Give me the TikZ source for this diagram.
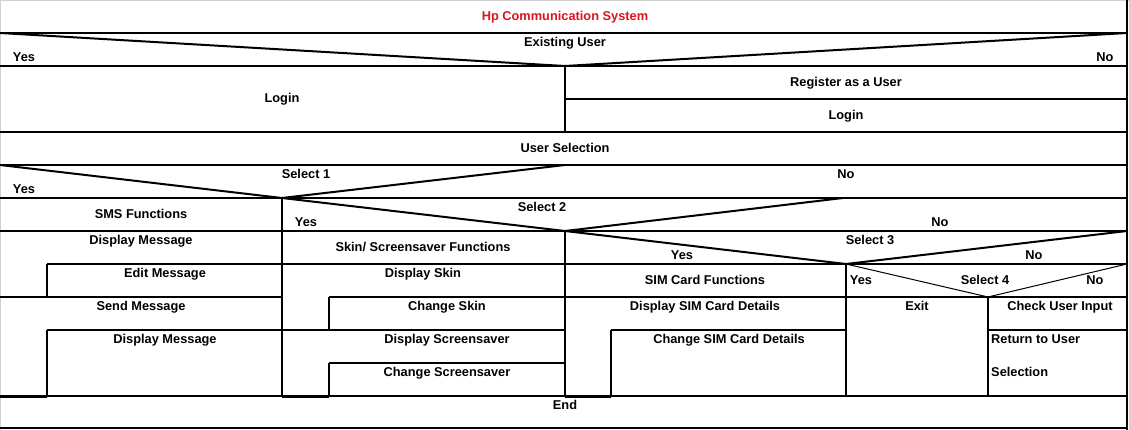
\documentclass[tikz,border=0pt]{standalone}
\usepackage{fontspec}
\setmainfont{Liberation Sans}
\usepackage{tikz}
\definecolor{titlered}{RGB}{220,20,30}
\tikzstyle{txt} = [inner sep=0pt, text height=9.2pt, text depth=0pt, font=\fontsize{12.8}{14}\selectfont\bfseries]
\tikzstyle{nsline} = [line width=2pt, black]
\tikzstyle{thinline} = [line width=1pt, black]
\tikzstyle{footline} = [line width=3pt, black]

\begin{document}
\begin{tikzpicture}[x=1pt, y=-1pt]
  \useasboundingbox (0,0) rectangle (1129,430);
  % frame
  \draw [gray!35, line width=1pt] (0.5,430) -- (0.5,0.5) -- (1129,0.5);
  \draw [nsline] (1127,0) -- (1127,430);
  % rules
  \draw [nsline] (0,33) -- (1127,33);
  \draw [nsline] (0,66) -- (1127,66);
  \draw [nsline] (565,99) -- (1127,99);
  \draw [nsline] (0,132) -- (1127,132);
  \draw [nsline] (0,165) -- (1127,165);
  \draw [nsline] (0,198) -- (1127,198);
  \draw [nsline] (0,231) -- (1127,231);
  \draw [nsline] (47,264) -- (1127,264);
  \draw [nsline] (0,297) -- (282,297);
  \draw [nsline] (329,297) -- (1127,297);
  \draw [nsline] (47,330) -- (565,330);
  \draw [nsline] (611,330) -- (846,330);
  \draw [nsline] (988,330) -- (1127,330);
  \draw [nsline] (329,363) -- (565,363);
  \draw [nsline] (0,396) -- (1127,396);
  \draw [nsline] (0,428) -- (1127,428);
  \draw [footline] (0,396) -- (47,396);
  \draw [footline] (282,396) -- (329,396);
  \draw [footline] (565,396) -- (611,396);
  % columns
  \draw [nsline] (565,66) -- (565,132);
  \draw [nsline] (282,198) -- (282,396);
  \draw [nsline] (565,231) -- (565,396);
  \draw [nsline] (846,264) -- (846,396);
  \draw [nsline] (988,297) -- (988,396);
  \draw [nsline] (47,264) -- (47,297);
  \draw [nsline] (47,330) -- (47,396);
  \draw [nsline] (329,297) -- (329,330);
  \draw [nsline] (329,363) -- (329,396);
  \draw [nsline] (611,330) -- (611,396);
  % decisions
  \draw [nsline] (0,33) -- (565,66) -- (1127,33);
  \draw [nsline] (0,165) -- (282,198) -- (565,165);
  \draw [nsline] (282,198) -- (565,231) -- (843,198);
  \draw [nsline] (565,231) -- (846,264) -- (1127,231);
  \draw [thinline] (846,264) -- (988,297) -- (1127,264);
  % texts
  \node (title) [txt, text=titlered] at (565,16) {Hp Communication System};
  \node (existing) [txt] at (565,42) {Existing User};
  \node (yesA) [txt] at (24,57) {Yes};
  \node (noA) [txt] at (1105,57) {No};
  \node (login) [txt] at (282,98) {Login};
  \node (register) [txt] at (846,82) {Register as a User};
  \node (loginB) [txt] at (846,115) {Login};
  \node (usersel) [txt] at (565,148) {User Selection};
  \node (select1) [txt] at (306,174) {Select 1};
  \node (yesB) [txt] at (24,189) {Yes};
  \node (noB) [txt] at (846,174) {No};
  \node (sms) [txt] at (141,214) {SMS Functions};
  \node (select2) [txt] at (542,207) {Select 2};
  \node (yesC) [txt] at (306,222) {Yes};
  \node (noC) [txt] at (940,222) {No};
  \node (dispmsg) [txt] at (141,240) {Display Message};
  \node (skinfn) [txt] at (423,247) {Skin/ Screensaver Functions};
  \node (select3) [txt] at (870,240) {Select 3};
  \node (yesD) [txt] at (682,255) {Yes};
  \node (noD) [txt] at (1034,255) {No};
  \node (editmsg) [txt] at (165,273) {Edit Message};
  \node (dispskin) [txt] at (423,273) {Display Skin};
  \node (simfn) [txt] at (705,280) {SIM Card Functions};
  \node (yesE) [txt] at (861,280) {Yes};
  \node (select4) [txt] at (985,280) {Select 4};
  \node (noE) [txt] at (1095,280) {No};
  \node (sendmsg) [txt] at (141,306) {Send Message};
  \node (chgskin) [txt] at (447,306) {Change Skin};
  \node (dispsim) [txt] at (705,306) {Display SIM Card Details};
  \node (exitn) [txt] at (917,306) {Exit};
  \node (checkin) [txt] at (1060,306) {Check User Input};
  \node (dispmsgB) [txt] at (165,339) {Display Message};
  \node (dispscr) [txt] at (447,339) {Display Screensaver};
  \node (chgsim) [txt] at (729,339) {Change SIM Card Details};
  \node (retsel) [txt, anchor=west] at (991,339) {Return to User};
  \node (selection) [txt, anchor=west] at (991,372) {Selection};
  \node (chgscr) [txt] at (447,372) {Change Screensaver};
  \node (endn) [txt] at (565,405) {End};
\end{tikzpicture}
\end{document}
